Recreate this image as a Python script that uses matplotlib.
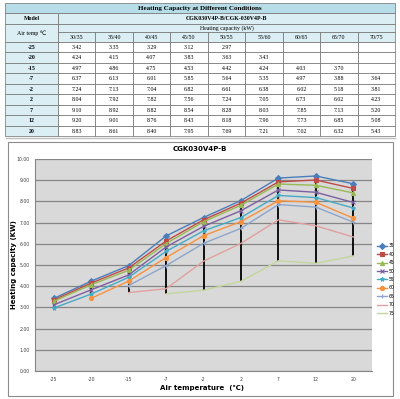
import matplotlib
matplotlib.use('Agg')
import matplotlib.pyplot as plt
from matplotlib.patches import Rectangle
import numpy as np

nan = np.nan

# table / chart data
air_temps = ["-25", "-20", "-15", "-7", "-2", "2", "7", "12", "20"]
water_temps = ["30/35", "35/40", "40/45", "45/50", "50/55", "55/60", "60/65", "65/70", "70/75"]
legend_labels = ["35", "40", "45", "50", "55", "60", "65", "70", "75"]

cap_30_35 = [3.42, 4.24, 4.97, 6.37, 7.24, 8.04, 9.10, 9.20, 8.83]
cap_35_40 = [3.35, 4.15, 4.86, 6.13, 7.13, 7.92, 8.92, 9.01, 8.61]
cap_40_45 = [3.29, 4.07, 4.75, 6.01, 7.04, 7.82, 8.82, 8.76, 8.40]
cap_45_50 = [3.12, 3.83, 4.53, 5.85, 6.82, 7.56, 8.54, 8.43, 7.95]
cap_50_55 = [2.97, 3.63, 4.42, 5.64, 6.61, 7.24, 8.28, 8.18, 7.69]
cap_55_60 = [nan, 3.43, 4.24, 5.35, 6.38, 7.05, 8.03, 7.96, 7.21]
cap_60_65 = [nan, nan, 4.03, 4.97, 6.02, 6.73, 7.85, 7.73, 7.02]
cap_65_70 = [nan, nan, 3.70, 3.88, 5.18, 6.02, 7.13, 6.85, 6.32]
cap_70_75 = [nan, nan, nan, 3.64, 3.81, 4.23, 5.20, 5.08, 5.43]

series = [cap_30_35, cap_35_40, cap_40_45, cap_45_50, cap_50_55,
          cap_55_60, cap_60_65, cap_65_70, cap_70_75]

colors = ['#4A7EBB', '#BE4B48', '#98B954', '#7D60A0', '#46AAC5',
          '#F69240', '#8EA5CB', '#E0A09F', '#C3D69B']
markers = ['D', 's', '^', 'x', '*', 'o', '+', None, None]

fig = plt.figure(figsize=(4.0, 3.99), dpi=100)

# ---- table drawn in pixel coordinates ----
tab = fig.add_axes([0, 0, 1, 1])
tab.set_xlim(0, 400)
tab.set_ylim(399, 0)
tab.axis('off')

serif = ['Liberation Serif', 'DejaVu Sans']
edge = '#6F6F6F'
x0, x1, xr = 5, 58, 395
colw = (xr - x1) / len(water_temps)
row_top = 42
rowh = (136 - row_top) / len(air_temps)

def cell(x, y, w, h, fc, text='', bold=False, size=4.2):
    tab.add_patch(Rectangle((x, y), w, h, facecolor=fc, edgecolor=edge, lw=0.5))
    if text:
        tab.text(x + w / 2, y + h / 2 + 0.3, text, ha='center', va='center',
                 fontsize=size, family=serif, fontweight='bold' if bold else 'normal')

cell(x0, 3, xr - x0, 10, '#B7DDE8', 'Heating Capacity at Different Conditions', bold=True, size=5)
cell(x0, 13, x1 - x0, 11, '#DAEEF3', 'Model', bold=True)
cell(x1, 13, xr - x1, 11, '#DAEEF3', 'CGK030V4P-B/CGK-030V4P-B', bold=True)
cell(x0, 24, x1 - x0, 18, '#DAEEF3', 'Air temp \u2103')
cell(x1, 24, xr - x1, 8, '#DAEEF3', 'Heating capacity (kW)')
for j, wt in enumerate(water_temps):
    cell(x1 + j * colw, 32, colw, 10, '#DAEEF3', wt)
for i, at in enumerate(air_temps):
    y = row_top + i * rowh
    cell(x0, y, x1 - x0, rowh, '#DAEEF3', at, bold=True)
    for j, s in enumerate(series):
        v = s[i]
        cell(x1 + j * colw, y, colw, rowh, 'white', '' if np.isnan(v) else f'{v:.2f}')

tab.plot([6, 395], [137.5, 137.5], color='#BFBFBF', lw=1)

# chart frame
tab.add_patch(Rectangle((8, 142), 385, 254, facecolor='white', edgecolor='#8C8C8C', lw=0.8))

# ---- line chart ----
ax = fig.add_axes([35 / 400, 1 - 371 / 399, 337 / 400, 212 / 399])
ax.set_facecolor('#D9D9D9')
x = np.arange(len(air_temps))
data = np.array(series)

# high-low lines
lo = np.nanmin(data, axis=0)
hi = np.nanmax(data, axis=0)
ax.vlines(x, lo, hi, color='black', lw=1.3, zorder=2)

for s, c, m, lab in zip(series, colors, markers, legend_labels):
    ax.plot(x, s, color=c, lw=1.0, marker=m, markersize=3, markeredgewidth=0.8,
            label=lab, zorder=3)

ax.set_xlim(-0.5, len(air_temps) - 0.5)
ax.set_ylim(0, 10)
ax.set_yticks(np.arange(0, 11, 1))
ax.set_yticklabels([f'{v:.2f}' for v in range(11)])
ax.set_xticks(x)
ax.set_xticklabels(air_temps)
ax.tick_params(labelsize=3.3, colors='#404040', length=0, pad=4)
ax.grid(axis='y', color='#868686', lw=0.9)
ax.set_axisbelow(True)
for sp in ['top', 'right']:
    ax.spines[sp].set_visible(False)
for sp in ['left', 'bottom']:
    ax.spines[sp].set_color('#868686')

fig.text(200 / 400, 1 - 149 / 399, 'CGK030V4P-B', ha='center', va='center',
         fontsize=5, fontweight='bold')
fig.text(14 / 400, 1 - 265 / 399, 'Heating capacity (KW)', rotation=90,
         ha='center', va='center', fontsize=5, fontweight='bold')
fig.text(202 / 400, 1 - 388 / 399, 'Air temperature  (\u2103)', ha='center',
         va='center', fontsize=5, fontweight='bold')

ax.legend(loc='upper left', bbox_to_anchor=(375 / 400, 1 - 241 / 399),
          bbox_transform=fig.transFigure, frameon=False, fontsize=3.3,
          handlelength=2.2, labelspacing=0.75, borderpad=0, handletextpad=0.3)

fig.savefig('out.png', dpi=100)
